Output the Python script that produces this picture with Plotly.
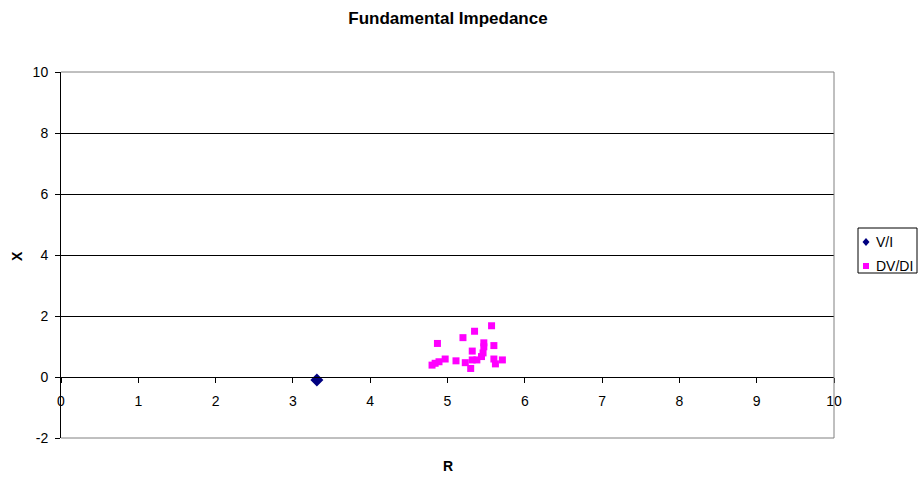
import plotly.graph_objects as go

# Fundamental impedance points: resistance R vs reactance X
vi_r = [3.31]
vi_x = [-0.10]

dv_r = [4.87, 5.20, 5.35, 5.57, 5.47, 5.47, 5.60, 5.32,
        4.80, 4.84, 4.89, 4.97, 5.11, 5.23, 5.30, 5.32,
        5.38, 5.44, 5.46, 5.60, 5.62, 5.71]
dv_x = [1.10, 1.29, 1.50, 1.68, 1.12, 0.99, 1.03, 0.85,
        0.39, 0.45, 0.50, 0.59, 0.53, 0.47, 0.28, 0.56,
        0.56, 0.67, 0.79, 0.59, 0.43, 0.56]

series_names = ["V/I", "DV/DI"]
series_colors = ["#000080", "#FF00FF"]

x_ticks = list(range(0, 11))
y_ticks = [-2, 0, 2, 4, 6, 8, 10]

FONT = "Liberation Sans, Arial, sans-serif"
W, H = 920, 479
ML, MR, MT, MB = 61, 86, 72, 41
PW, PH = W - ML - MR, H - MT - MB


def px(xpix):
    """Horizontal pixel -> paper fraction."""
    return (xpix - ML) / PW


def py(ypix):
    """Vertical pixel (from top) -> paper fraction."""
    return (H - MB - ypix) / PH


fig = go.Figure()
fig.add_trace(go.Scatter(
    x=vi_r, y=vi_x, mode="markers", name=series_names[0], showlegend=False,
    marker=dict(symbol="diamond", size=10, color=series_colors[0]),
))
fig.add_trace(go.Scatter(
    x=dv_r, y=dv_x, mode="markers", name=series_names[1], showlegend=False,
    marker=dict(symbol="square", size=7, color=series_colors[1]),
))

# plot-area frame (top, right, bottom) in grey
frame = dict(type="line", xref="paper", yref="paper",
             line=dict(color="#808080", width=1), layer="above")
fig.add_shape(x0=0, x1=1, y0=1, y1=1, **frame)
fig.add_shape(x0=1, x1=1, y0=0, y1=1, **frame)
fig.add_shape(x0=0, x1=1, y0=0, y1=0, **frame)

# compact legend box
fig.add_shape(type="rect", xref="paper", yref="paper",
              x0=px(858), x1=px(917), y0=py(273), y1=py(228),
              line=dict(color="black", width=1), fillcolor="white")
# legend keys: diamond and square
cx, r = 866, 3.5
cy1, cy2 = 242, 266
fig.add_shape(type="path", xref="paper", yref="paper",
              path=(f"M {px(cx)} {py(cy1 - r - 0.5)} L {px(cx + r)} {py(cy1)} "
                    f"L {px(cx)} {py(cy1 + r + 0.5)} L {px(cx - r)} {py(cy1)} Z"),
              line=dict(width=0), fillcolor=series_colors[0])
fig.add_shape(type="rect", xref="paper", yref="paper",
              x0=px(cx - 3), x1=px(cx + 3), y0=py(cy2 + 3), y1=py(cy2 - 3),
              line=dict(width=0), fillcolor=series_colors[1])

annotations = [
    dict(text="<b>R</b>", xref="paper", yref="paper", x=0.5, y=py(466),
         xanchor="center", yanchor="middle", showarrow=False,
         font=dict(size=14)),
    dict(text="<b>X</b>", xref="paper", yref="paper", x=px(17), y=py(256),
         xanchor="center", yanchor="middle", showarrow=False,
         textangle=-90, font=dict(size=14)),
]
for name, cy in zip(series_names, [cy1, cy2]):
    annotations.append(dict(text=name, xref="paper", yref="paper",
                            x=px(874), y=py(cy), xanchor="left",
                            yanchor="middle", showarrow=False,
                            font=dict(size=14)))

fig.update_layout(
    width=W, height=H,
    margin=dict(l=ML, r=MR, t=MT, b=MB),
    paper_bgcolor="white", plot_bgcolor="white",
    font=dict(family=FONT, size=14, color="black"),
    showlegend=False,
    title=dict(text="<b>Fundamental Impedance</b>", x=px(448), xanchor="center",
               xref="paper", y=1 - 18 / H, yanchor="middle",
               font=dict(size=17)),
    xaxis=dict(
        range=[0, 10], tickvals=x_ticks, ticktext=[str(v) for v in x_ticks],
        anchor="free", position=1 / 6,
        showline=True, linecolor="black", linewidth=1,
        ticks="outside", ticklen=5, tickcolor="black",
        ticklabelstandoff=6,
        showgrid=False, zeroline=False,
    ),
    yaxis=dict(
        range=[-2, 10], tickvals=y_ticks, ticktext=[str(v) for v in y_ticks],
        showline=True, linecolor="black", linewidth=1,
        ticks="outside", ticklen=5, tickcolor="black",
        ticklabelstandoff=4,
        showgrid=True, gridcolor="black", gridwidth=1,
        zeroline=False,
    ),
    annotations=annotations,
)

fig.write_html("out.html")
